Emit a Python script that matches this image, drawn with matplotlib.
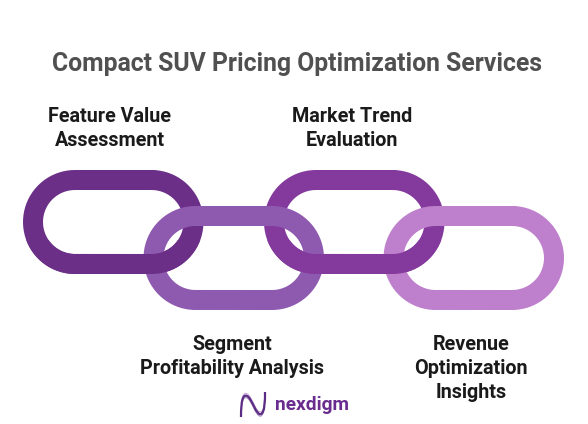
import numpy as np
import matplotlib
matplotlib.use("Agg")
import matplotlib.pyplot as plt
from matplotlib.patches import Rectangle, PathPatch
from matplotlib.path import Path
from matplotlib.lines import Line2D

W, H = 588, 424
TITLE = "Compact SUV Pricing Optimization Services"
LABELS = ["Feature Value\nAssessment", "Segment\nProfitability Analysis",
          "Market Trend\nEvaluation", "Revenue\nOptimization\nInsights"]
LABEL_X = [110, 232, 352, 471]
LABEL_Y = [116, 344, 116, 344]
COLORS = ["#6C2F88", "#8E5AB0", "#84399C", "#BE80CC"]
LINK_LEFT = [33, 153.5, 274, 393.5]
LINK_TOP = [180, 216, 180, 216]
LINK_WIDTH = 160.5
LINK_RADIUS = 42
STROKE_PX = 20
TITLE_COLOR = "#505050"
LABEL_COLOR = "#1a1a1a"
LOGO_TEXT = "nexdigm"

plt.rcParams["font.family"] = ["Roboto", "DejaVu Sans"]
fig = plt.figure(figsize=(W / 100, H / 100), dpi=100)
ax = fig.add_axes([0, 0, 1, 1])
ax.set_xlim(0, W)
ax.set_ylim(H, 0)
ax.axis("off")


def stadium(left, top, width, r):
    t = np.linspace(-np.pi / 2, np.pi / 2, 80)
    xr = left + width - r + r * np.cos(t)
    yr = top + r + r * np.sin(t)
    xl = left + r - r * np.cos(t)
    yl = top + r - r * np.sin(t)
    return np.r_[xr, xl, xr[0]], np.r_[yr, yl, yr[0]]


def draw(i, z, clip=None):
    x, y = stadium(LINK_LEFT[i], LINK_TOP[i], LINK_WIDTH, LINK_RADIUS)
    ln = Line2D(x, y, color=COLORS[i], lw=STROKE_PX * 0.72, zorder=z,
                solid_capstyle="round", solid_joinstyle="round")
    ax.add_line(ln)
    if clip is not None:
        ln.set_clip_path(clip)


for i in (0, 2):
    draw(i, 1)
for i in (1, 3):
    draw(i, 2)
for i in (0, 2):
    clip = Rectangle((0, 240), W, 50, transform=ax.transData)
    draw(i, 3, clip)

ax.text(296.5, 64, TITLE, ha="center", va="center", fontsize=17.85,
        fontweight="bold", color=TITLE_COLOR)

for lab, lx, ly in zip(LABELS, LABEL_X, LABEL_Y):
    for k, line in enumerate(lab.split("\n")):
        ax.text(lx, ly + 24 * k, line, ha="center", va="center", fontsize=14.2,
                fontweight="bold", color=LABEL_COLOR)

# logo swirl: three offset strands of one N-shaped curve
codes = [Path.MOVETO] + [Path.CURVE4] * 9
for dy, col, lw in [(-2.2, "#C9A6D6", 0.8), (2.0, "#A98BBE", 0.8), (0, "#5B2C83", 1.6)]:
    verts = [(241, 417), (241, 400 + dy), (243, 394 + dy), (247, 396 + dy),
             (252, 398 + dy), (256, 416 + dy), (261, 414 + dy),
             (265, 412 + dy), (265, 400), (265, 392)]
    ax.add_patch(PathPatch(Path(verts, codes), fill=False, edgecolor=col, lw=lw, zorder=4))
ax.text(275, 405, LOGO_TEXT, ha="left", va="center", fontsize=13.8,
        fontweight="bold", color="#6A2C8E")

fig.savefig("out.png", dpi=100, facecolor="white")
